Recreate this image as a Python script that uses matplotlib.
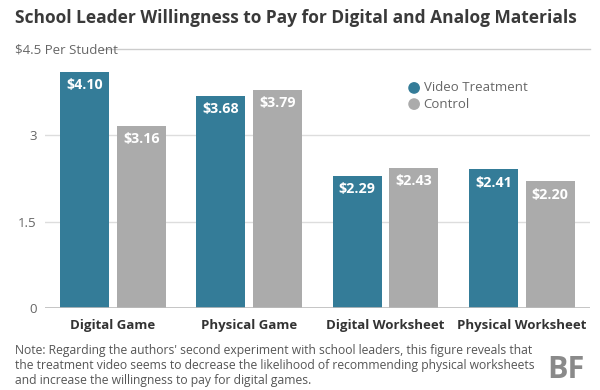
import matplotlib.pyplot as plt
import numpy as np

categories = ["Digital Game", "Physical Game", "Digital Worksheet", "Physical Worksheet"]
video = [4.10, 3.68, 2.29, 2.41]
control = [3.16, 3.79, 2.43, 2.20]
yticks = [0, 1.5, 3]
ytick_labels = ["0", "1.5", "3"]

teal = "#347c98"
grey = "#ababab"
plt.rcParams["font.family"] = ["Open Sans", "DejaVu Sans"]

fig = plt.figure(figsize=(6, 3.9), dpi=100)
ax = fig.add_axes([0.075, 0.21, 0.908, 0.665])

x = np.arange(len(categories))
off = 0.208
w = 0.36
b1 = ax.bar(x - off, video, w, color=teal, zorder=3)
b2 = ax.bar(x + off, control, w, color=grey, zorder=3)

for bars, vals in [(b1, video), (b2, control)]:
    for r, v in zip(bars, vals):
        ax.text(r.get_x() + r.get_width() / 2, v - 0.11, "$%.2f" % v,
                ha="center", va="top", color="white", fontsize=10.3,
                fontweight="bold", zorder=4)

ax.set_xlim(-0.5, 3.5)
ax.set_ylim(0, 4.5)
ax.set_yticks(yticks)
ax.set_yticklabels(ytick_labels, color="#666666", fontsize=9.5)
ax.set_xticks(x)
ax.set_xticklabels(categories, fontsize=9.5, fontweight="bold", color="#333333")
ax.tick_params(length=0, axis="y", pad=6)
ax.tick_params(length=0, axis="x", pad=8)
for s in ax.spines.values():
    s.set_visible(False)
for t in [1.5, 3]:
    ax.axhline(t, color="#dddddd", lw=1, zorder=1)
ax.axhline(0, color="#bbbbbb", lw=1.2, zorder=5)
ax.axhline(4.5, xmin=0.105, color="#cccccc", lw=1, zorder=1, clip_on=False)
fig.text(0.025, 0.873, "$4.5 Per Student", ha="left", va="center",
         color="#666666", fontsize=9.5)

# legend
ax.scatter([2.21, 2.21], [3.82, 3.54], s=55, color=[teal, grey], zorder=5, clip_on=False)
ax.text(2.28, 3.82, "Video Treatment", va="center", fontsize=9.5, color="#666666")
ax.text(2.28, 3.54, "Control", va="center", fontsize=9.5, color="#666666")

fig.text(0.025, 0.955, "School Leader Willingness to Pay for Digital and Analog Materials",
         fontsize=12.5, fontweight="bold", color="#3a3a3a", va="center")

note = ("Note: Regarding the authors' second experiment with school leaders, this figure reveals that\n"
        "the treatment video seems to decrease the likelihood of recommending physical worksheets\n"
        "and increase the willingness to pay for digital games.")
fig.text(0.025, 0.008, note, fontsize=8.7, color="#555555", va="bottom", linespacing=1.2)
fig.text(0.975, 0.05, "BF", fontsize=22, fontweight="bold", color="#8a8a8a",
         ha="right", va="center")

fig.savefig("out.png", dpi=100)
